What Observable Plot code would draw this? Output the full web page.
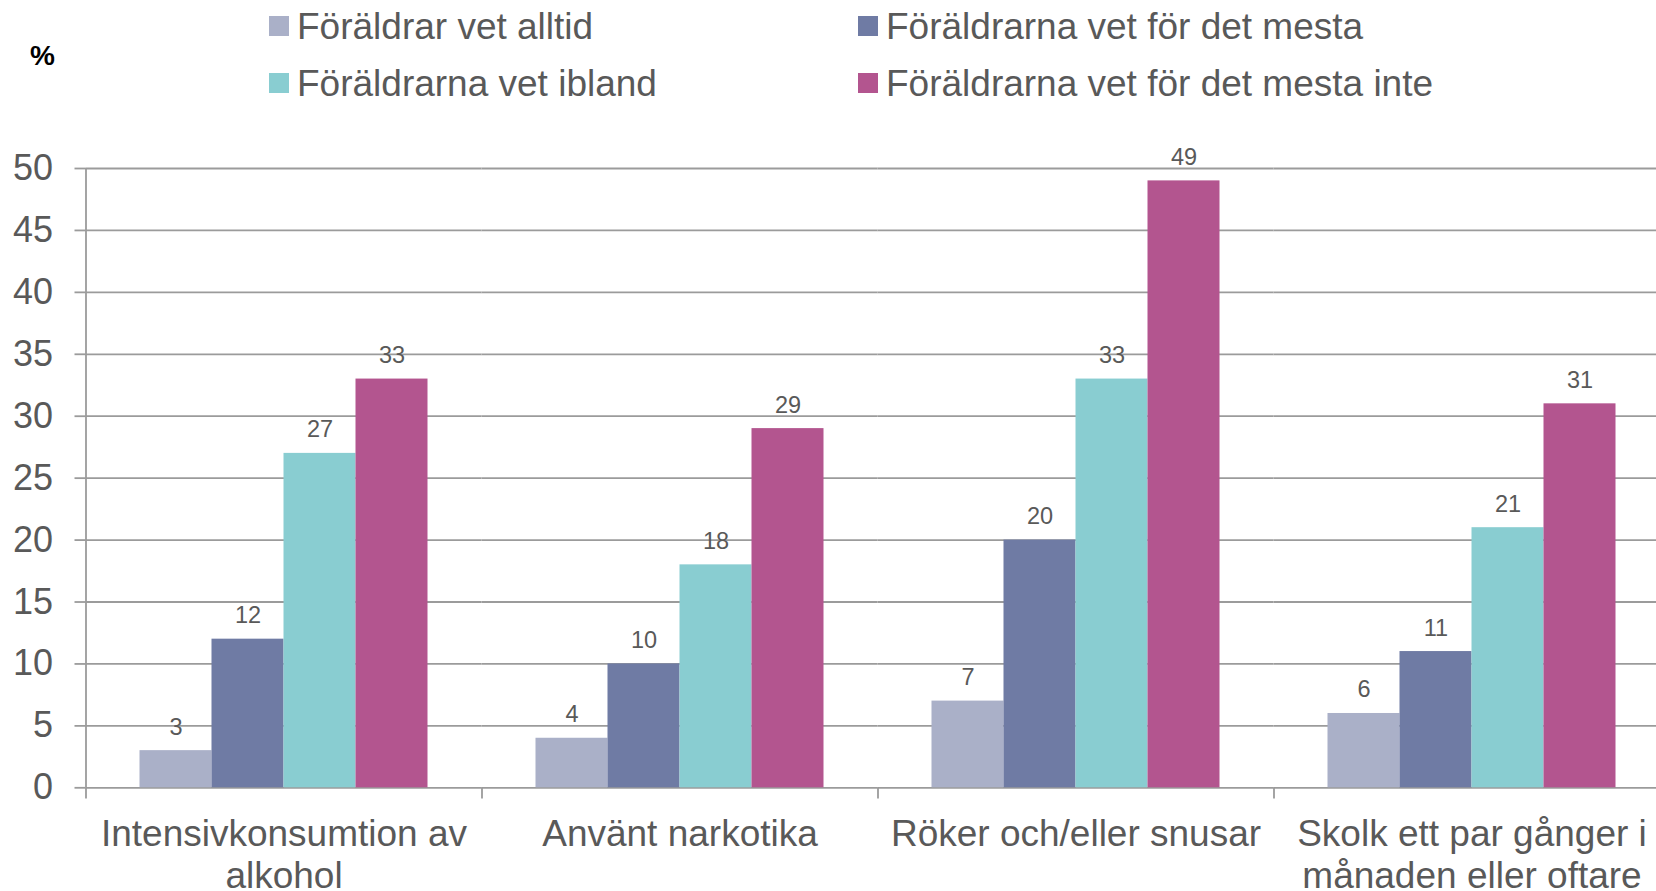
<!DOCTYPE html>
<html><head><meta charset="utf-8">
<script src="https://cdn.jsdelivr.net/npm/d3@7"></script>
<script src="https://cdn.jsdelivr.net/npm/@observablehq/plot@0.6"></script>
<style>
html,body{margin:0;padding:0;background:#fff;overflow:hidden;}
#wrap{position:relative;width:1656px;height:891px;font-family:"Liberation Sans",Arial,sans-serif;}
.lg{position:absolute;font-size:37px;line-height:37px;color:#595959;white-space:nowrap;}
.sw{position:absolute;width:20px;height:20px;}
#pct{position:absolute;left:30px;top:42px;font-size:28px;line-height:28px;font-weight:bold;color:#000;}
#chart{position:absolute;left:0;top:0;}
</style></head><body>
<div id="wrap"><div id="chart"></div><div id="legend"></div><div id="pct">%</div></div>
<script>
// ---- data ----
const categories = ["Intensivkonsumtion av alkohol", "Använt narkotika", "Röker och/eller snusar", "Skolk ett par gånger i månaden eller oftare"];
const categoryLabels = ["Intensivkonsumtion av\nalkohol", "Använt narkotika", "Röker och/eller snusar", "Skolk ett par gånger i\nmånaden eller oftare"];
const series = ["Föräldrar vet alltid", "Föräldrarna vet för det mesta", "Föräldrarna vet ibland", "Föräldrarna vet för det mesta inte"];
const colors = ["#aab0c8", "#6f7ba4", "#89cdd1", "#b3558f"];
const vetAlltid = [3, 4, 7, 6];
const vetMesta = [12, 10, 20, 11];
const vetIbland = [27, 18, 33, 21];
const vetMestaInte = [33, 29, 49, 31];
const yTicks = [0, 5, 10, 15, 20, 25, 30, 35, 40, 45, 50];

const seriesValues = [vetAlltid, vetMesta, vetIbland, vetMestaInte];
const data = categories.flatMap((c, i) => series.map((s, j) => ({category: c, series: s, value: seriesValues[j][i]})));

const gridColor = "#9b9b9b";
const textColor = "#595959";

// ---- legend (HTML, above the svg) ----
const legendCols = [269, 858];
const legendRows = [16, 73];
const legend = document.getElementById("legend");
series.forEach((s, k) => {
  const col = k % 2, row = Math.floor(k / 2);
  const sw = document.createElement("div");
  sw.className = "sw";
  sw.style.left = legendCols[col] + "px";
  sw.style.top = legendRows[row] + "px";
  sw.style.background = colors[k];
  legend.appendChild(sw);
  const t = document.createElement("div");
  t.className = "lg";
  t.style.left = (legendCols[col] + 28) + "px";
  t.style.top = (legendRows[row] - 8) + "px";
  t.textContent = s;
  legend.appendChild(t);
});

// ---- chart ----
const edgeOffset = -90; // from first bar centre to facet edge
const plot = Plot.plot({
  width: 1656,
  height: 891,
  marginTop: 168,
  marginBottom: 103.7,
  marginLeft: 85.5,
  marginRight: -13.5,
  style: {fontFamily: "'Liberation Sans', Arial, sans-serif", background: "transparent"},
  fx: {domain: categories, padding: 0, round: false, axis: null, label: null},
  x: {domain: series, paddingInner: 0, paddingOuter: 0.75, round: false, axis: null, label: null},
  y: {domain: [0, 50], axis: null, label: null},
  color: {domain: series, range: colors},
  marks: [
    Plot.gridY({ticks: yTicks, stroke: gridColor, strokeOpacity: 1, strokeWidth: 1.8}),
    Plot.axisY({ticks: yTicks, tickSize: 11, tickPadding: 22, fontSize: 36, stroke: gridColor, strokeWidth: 1.8, fill: textColor, label: null}),
    Plot.ruleX([categories[0]], {fx: d => d, x: () => series[0], dx: edgeOffset, y1: 0, y2: 50, stroke: gridColor, strokeWidth: 1.8}),
    Plot.ruleX(categories, {fx: d => d, x: () => series[0], dx: edgeOffset, y1: 0, y2: -0.9, stroke: gridColor, strokeWidth: 1.8}),
    Plot.barY(data, {fx: "category", x: "series", y: "value", fill: "series"}),
    Plot.text(data, {fx: "category", x: "series", y: "value", text: d => String(d.value), lineAnchor: "bottom", dy: -16, fontSize: 23.5, fill: textColor}),
    Plot.text(categories, {fx: d => d, text: (d, i) => categoryLabels[i], frameAnchor: "bottom", lineAnchor: "top", dy: 29, fontSize: 37, lineHeight: 1.13, fill: textColor})
  ]
});
document.getElementById("chart").appendChild(plot);
</script>
</body></html>
